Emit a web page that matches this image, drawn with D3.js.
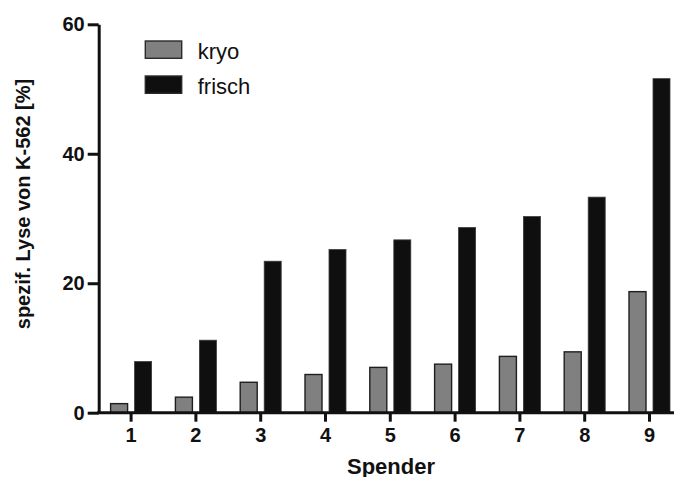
<!DOCTYPE html>
<html>
<head>
<meta charset="utf-8">
<script src="https://cdn.jsdelivr.net/npm/d3@7"></script>
<style>
  html, body { margin: 0; padding: 0; background: #fff; }
  svg { display: block; font-family: "Liberation Sans", Arial, Helvetica, sans-serif; }
</style>
</head>
<body>
<svg id="chart" width="674" height="477"></svg>
<script>
const categories = ["1", "2", "3", "4", "5", "6", "7", "8", "9"];
const seriesNames = ["kryo", "frisch"];
const kryo = [1.4, 2.4, 4.7, 5.9, 7.0, 7.5, 8.7, 9.4, 18.7];
const frisch = [7.9, 11.2, 23.4, 25.2, 26.7, 28.6, 30.3, 33.3, 51.6];
const yTicks = [0, 20, 40, 60];
const colors = { kryo: "#808080", frisch: "#0f0f0f" };

const svg = d3.select("#chart");
const mLeft = 98.7, mTop = 24.3, mBottom = 412.7, mRight = 681.9;

const x = d3.scaleBand().domain(categories).range([mLeft, mRight]).paddingInner(0).paddingOuter(0);
const xs = d3.scaleBand().domain(seriesNames).range([0, x.bandwidth()]).paddingInner(0.2917).paddingOuter(0.4958);
const y = d3.scaleLinear().domain([0, 60]).range([mBottom, mTop]);

const rows = categories.map((c, i) => ({ cat: c, kryo: kryo[i], frisch: frisch[i] }));

// bars
const g = svg.append("g");
rows.forEach(r => {
  seriesNames.forEach(s => {
    g.append("rect")
      .attr("x", x(r.cat) + xs(s))
      .attr("y", y(r[s]))
      .attr("width", xs.bandwidth())
      .attr("height", y(0) - y(r[s]))
      .attr("fill", colors[s])
      .attr("stroke", s === "kryo" ? "#1e1e1e" : "#3a3a3a")
      .attr("stroke-width", s === "kryo" ? 1.4 : 0.8);
  });
});

// y axis
const yAxis = svg.append("g")
  .attr("transform", `translate(${mLeft},0)`)
  .call(d3.axisLeft(y).tickValues(yTicks).tickSize(11).tickSizeOuter(0).tickPadding(3));
yAxis.select(".domain").attr("stroke", "#111").attr("stroke-width", 3);
yAxis.selectAll(".tick line").attr("stroke", "#111").attr("stroke-width", 3);
yAxis.selectAll(".tick text")
  .attr("fill", "#111").attr("font-size", 20).attr("font-weight", "bold")
  .attr("font-family", "Liberation Sans, Arial, sans-serif");

// x axis
const xAxis = svg.append("g")
  .attr("transform", `translate(0,${mBottom})`)
  .call(d3.axisBottom(x).tickSize(9).tickSizeOuter(0).tickPadding(6));
xAxis.select(".domain").attr("stroke", "#111").attr("stroke-width", 3)
  .attr("d", `M${mLeft - 1.5},0H${mRight}`);
xAxis.selectAll(".tick line").attr("stroke", "#111").attr("stroke-width", 3);
xAxis.selectAll(".tick text")
  .attr("fill", "#111").attr("font-size", 20).attr("font-weight", "bold")
  .attr("font-family", "Liberation Sans, Arial, sans-serif");

// axis titles
svg.append("text")
  .attr("x", 391).attr("y", 473.5)
  .attr("text-anchor", "middle")
  .attr("font-size", 22).attr("font-weight", "bold").attr("fill", "#111")
  .text("Spender");

svg.append("text")
  .attr("transform", "translate(30,204) rotate(-90)")
  .attr("text-anchor", "middle")
  .attr("font-size", 20).attr("font-weight", "bold").attr("fill", "#111")
  .text("spezif. Lyse von K-562 [%]");

// legend
const legend = svg.append("g");
seriesNames.forEach((s, i) => {
  const ly = 41 + i * 35;
  legend.append("rect")
    .attr("x", 145.3).attr("y", ly).attr("width", 36.4).attr("height", 17.3)
    .attr("fill", colors[s]).attr("stroke", "#2a2a2a").attr("stroke-width", 1.4);
  legend.append("text")
    .attr("x", 197.7).attr("y", ly + 18.3)
    .attr("font-size", 22).attr("fill", "#111")
    .text(s);
});
</script>
</body>
</html>
